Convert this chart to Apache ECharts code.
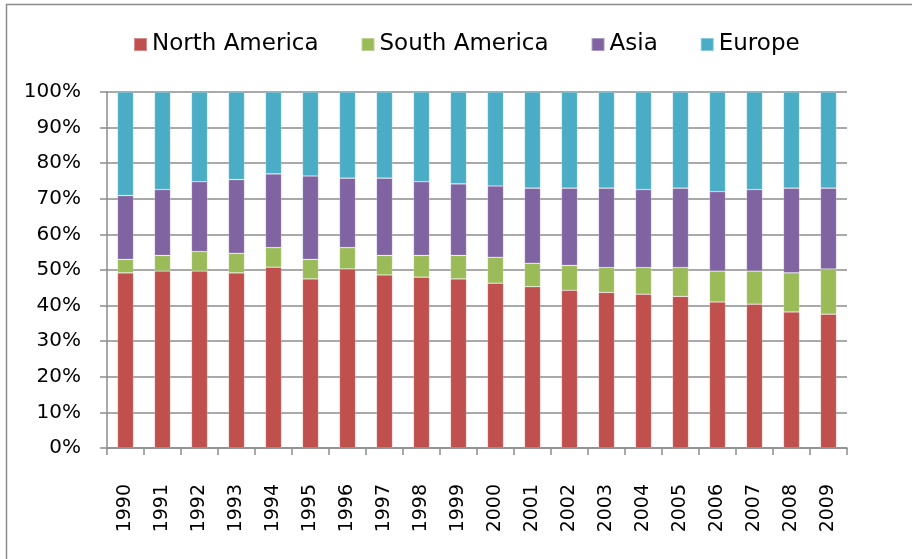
<!DOCTYPE html>
<html>
<head>
<meta charset="utf-8">
<script src="https://cdn.jsdelivr.net/npm/echarts@6/dist/echarts.min.js"></script>
<style>
html,body{margin:0;padding:0;background:#fff;}
#c{width:912px;height:559px;}
</style>
</head>
<body>
<div id="c"></div>
<script>
const years = ['1990','1991','1992','1993','1994','1995','1996','1997','1998','1999','2000','2001','2002','2003','2004','2005','2006','2007','2008','2009'];
const northAmerica = [49.2,49.7,49.7,49.2,50.8,47.5,50.3,48.6,48.0,47.5,46.3,45.3,44.3,43.7,43.2,42.6,41.0,40.4,38.2,37.6];
const southAmerica = [3.8,4.4,5.5,5.5,5.5,5.5,6.0,5.5,6.1,6.6,7.3,6.6,7.0,7.0,7.5,8.1,8.7,9.3,11.0,12.7];
const asia = [17.9,18.5,19.6,20.7,20.7,23.4,19.5,21.7,20.7,20.1,20.0,21.1,21.7,22.3,21.9,22.3,22.3,22.9,23.8,22.7];
const europe = [29.1,27.4,25.2,24.6,23.0,23.6,24.2,24.2,25.2,25.8,26.4,27.0,27.0,27.0,27.4,27.0,28.0,27.4,27.0,27.0];
const seriesNames = ['North America','South America','Asia','Europe'];
const colors = ['#C0504D','#9BBB59','#8064A2','#4BACC6'];

const font = 'DejaVu Sans';
const lineColor = '#8c8c8c';
const chart = echarts.init(document.getElementById('c'), null, {renderer:'canvas'});
const dataSets = [northAmerica, southAmerica, asia, europe];

chart.setOption({
  animation: false,
  color: colors,
  graphic: [{
    type: 'rect',
    shape: {x: 6.5, y: 4.5, width: 1000, height: 1000},
    style: {fill: 'none', stroke: '#8c8c8c', lineWidth: 1.5},
    silent: true
  }],
  legend: {
    left: 128,
    top: 28,
    itemWidth: 13,
    itemHeight: 13,
    itemGap: 42,
    icon: 'rect',
    textStyle: {fontFamily: font, fontSize: 23, color: '#000', padding: [0,0,0,0]},
    data: seriesNames
  },
  grid: {left: 107, right: 65, top: 92, bottom: 111, containLabel: false},
  xAxis: {
    type: 'category',
    data: years,
    axisLine: {lineStyle: {color: lineColor, width: 1.5}},
    axisTick: {show: true, length: 7, lineStyle: {color: lineColor, width: 1.5}},
    axisLabel: {rotate: 90, margin: 36, fontFamily: font, fontSize: 19, color: '#000', interval: 0}
  },
  yAxis: {
    type: 'value',
    min: 0, max: 100, interval: 10,
    axisLine: {show: true, lineStyle: {color: lineColor, width: 1.5}},
    axisTick: {show: true, length: 7, lineStyle: {color: lineColor, width: 1.5}},
    splitLine: {show: true, lineStyle: {color: lineColor, width: 1.5}},
    axisLabel: {formatter: '{value}%', margin: 26, fontFamily: font, fontSize: 20, color: '#000'}
  },
  series: seriesNames.map((n, i) => ({
    name: n,
    type: 'bar',
    stack: 'total',
    barWidth: 16,
    data: dataSets[i],
    itemStyle: {color: colors[i], borderColor: 'rgba(255,255,255,0.35)', borderWidth: 0.6}
  }))
});
</script>
</body>
</html>
